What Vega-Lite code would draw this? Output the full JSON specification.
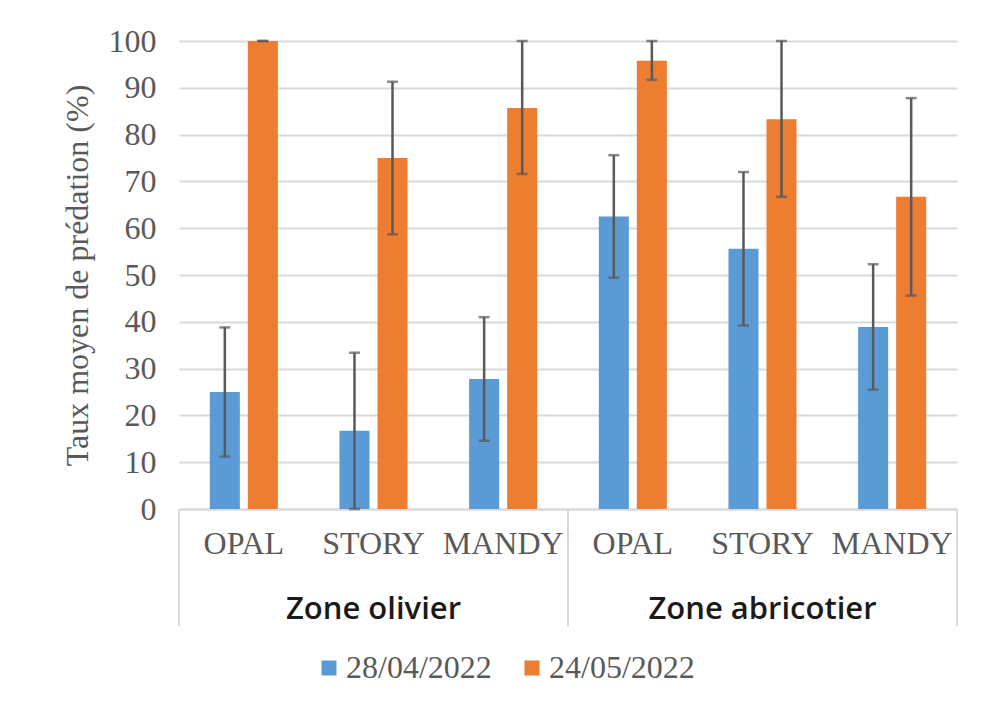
{
  "$schema": "https://vega.github.io/schema/vega-lite/v6.json",
  "padding": {"left": 61, "top": 25, "right": 5, "bottom": 5},
  "background": "white",
  "width": 778,
  "height": 468,
  "data": {"values": [
    {"zone": "Zone olivier", "variety": "OPAL", "key": "Zone olivier/OPAL", "date": "28/04/2022", "value": 25.0, "lo": 11.2, "hi": 38.8},
    {"zone": "Zone olivier", "variety": "OPAL", "key": "Zone olivier/OPAL", "date": "24/05/2022", "value": 100.0, "lo": 100.0, "hi": 100.0},
    {"zone": "Zone olivier", "variety": "STORY", "key": "Zone olivier/STORY", "date": "28/04/2022", "value": 16.7, "lo": 0.0, "hi": 33.4},
    {"zone": "Zone olivier", "variety": "STORY", "key": "Zone olivier/STORY", "date": "24/05/2022", "value": 75.0, "lo": 58.7, "hi": 91.3},
    {"zone": "Zone olivier", "variety": "MANDY", "key": "Zone olivier/MANDY", "date": "28/04/2022", "value": 27.8, "lo": 14.6, "hi": 41.0},
    {"zone": "Zone olivier", "variety": "MANDY", "key": "Zone olivier/MANDY", "date": "24/05/2022", "value": 85.7, "lo": 71.6, "hi": 100.0},
    {"zone": "Zone abricotier", "variety": "OPAL", "key": "Zone abricotier/OPAL", "date": "28/04/2022", "value": 62.5, "lo": 49.4, "hi": 75.6},
    {"zone": "Zone abricotier", "variety": "OPAL", "key": "Zone abricotier/OPAL", "date": "24/05/2022", "value": 95.8, "lo": 91.7, "hi": 100.0},
    {"zone": "Zone abricotier", "variety": "STORY", "key": "Zone abricotier/STORY", "date": "28/04/2022", "value": 55.6, "lo": 39.2, "hi": 72.0},
    {"zone": "Zone abricotier", "variety": "STORY", "key": "Zone abricotier/STORY", "date": "24/05/2022", "value": 83.3, "lo": 66.7, "hi": 100.0},
    {"zone": "Zone abricotier", "variety": "MANDY", "key": "Zone abricotier/MANDY", "date": "28/04/2022", "value": 38.9, "lo": 25.5, "hi": 52.3},
    {"zone": "Zone abricotier", "variety": "MANDY", "key": "Zone abricotier/MANDY", "date": "24/05/2022", "value": 66.7, "lo": 45.6, "hi": 87.8}
  ]},
  "layer": [
    {
      "mark": {"type": "bar"},
      "encoding": {
        "x": {"field": "key", "type": "nominal", "sort": null,
              "scale": {"paddingInner": 0, "paddingOuter": 0},
              "axis": {"title": null, "labelAngle": 0, "ticks": false, "labelPadding": 19,
                       "labelExpr": "split(datum.label, '/')[1]",
                       "labelFont": "Liberation Serif", "labelFontSize": 32, "labelColor": "#595959",
                       "domainColor": "#d9d9d9", "domainWidth": 2}},
        "xOffset": {"field": "date", "type": "nominal", "sort": ["28/04/2022", "24/05/2022"],
                    "scale": {"paddingInner": 0.21, "paddingOuter": 0.81}},
        "y": {"field": "value", "type": "quantitative",
              "scale": {"domain": [0, 100], "nice": false},
              "axis": {"title": "Taux moyen de prédation (%)", "values": [0,10,20,30,40,50,60,70,80,90,100],
                       "domain": false, "ticks": false, "labelPadding": 23,
                       "labelFont": "Liberation Serif", "labelFontSize": 32, "labelColor": "#595959",
                       "titleFont": "Liberation Serif", "titleFontSize": 32, "titleFontWeight": "normal",
                       "titleColor": "#595959", "titlePadding": 14,
                       "gridColor": "#d9d9d9", "gridWidth": 2}},
        "color": {"field": "date", "type": "nominal", "sort": ["28/04/2022", "24/05/2022"],
                  "scale": {"domain": ["28/04/2022", "24/05/2022"], "range": ["#5B9BD5", "#ED7D31"]},
                  "legend": {"title": null, "orient": "none", "direction": "horizontal",
                             "legendX": 134, "legendY": 611,
                             "symbolType": "square", "symbolSize": 225, "symbolStrokeWidth": 0,
                             "labelFont": "Liberation Serif", "labelFontSize": 32, "labelColor": "#595959",
                             "labelOffset": 1, "columnPadding": 24}}
      }
    },
    {
      "mark": {"type": "rule", "color": "#595959", "strokeWidth": 2.5},
      "encoding": {
        "x": {"field": "key", "type": "nominal", "sort": null},
        "xOffset": {"field": "date", "type": "nominal", "sort": ["28/04/2022", "24/05/2022"]},
        "y": {"field": "lo", "type": "quantitative"},
        "y2": {"field": "hi"}
      }
    },
    {
      "mark": {"type": "tick", "color": "#595959", "orient": "horizontal", "size": 11, "thickness": 2.5},
      "encoding": {
        "x": {"field": "key", "type": "nominal", "sort": null},
        "xOffset": {"field": "date", "type": "nominal", "sort": ["28/04/2022", "24/05/2022"]},
        "y": {"field": "hi", "type": "quantitative"}
      }
    },
    {
      "mark": {"type": "tick", "color": "#595959", "orient": "horizontal", "size": 11, "thickness": 2.5},
      "encoding": {
        "x": {"field": "key", "type": "nominal", "sort": null},
        "xOffset": {"field": "date", "type": "nominal", "sort": ["28/04/2022", "24/05/2022"]},
        "y": {"field": "lo", "type": "quantitative"}
      }
    },
    {
      "transform": [{"filter": "datum.variety == 'OPAL' && datum.date == '28/04/2022'"}],
      "mark": {"type": "rule", "color": "#d9d9d9", "strokeWidth": 2},
      "encoding": {
        "x": {"field": "key", "type": "nominal", "sort": null, "bandPosition": 0},
        "y": {"datum": 0, "type": "quantitative"},
        "y2": {"datum": -25}
      }
    },
    {
      "transform": [{"filter": "datum.zone == 'Zone abricotier' && datum.variety == 'MANDY' && datum.date == '28/04/2022'"}],
      "mark": {"type": "rule", "color": "#d9d9d9", "strokeWidth": 2},
      "encoding": {
        "x": {"field": "key", "type": "nominal", "sort": null, "bandPosition": 1},
        "y": {"datum": 0, "type": "quantitative"},
        "y2": {"datum": -25}
      }
    },
    {
      "transform": [{"filter": "datum.variety == 'STORY' && datum.date == '28/04/2022'"}],
      "mark": {"type": "text", "font": "Open Sans", "fontSize": 31, "fontWeight": 600, "color": "#1a1a1a", "baseline": "middle"},
      "encoding": {
        "x": {"field": "key", "type": "nominal", "sort": null},
        "y": {"datum": -21.5, "type": "quantitative"},
        "text": {"field": "zone"}
      }
    }
  ],
  "config": {"view": {"stroke": null}}
}
